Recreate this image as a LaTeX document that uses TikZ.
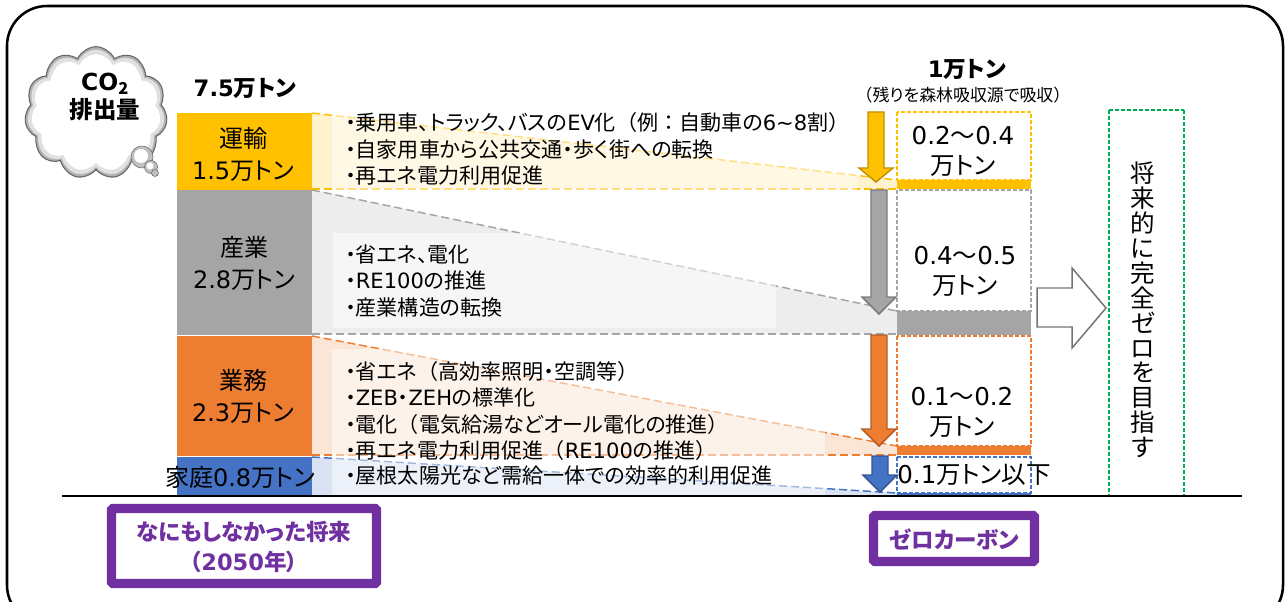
\documentclass[tikz,border=0pt]{standalone}
\usepackage{fontspec}
\setmainfont[RawFeature=+palt]{Noto Sans CJK JP}
\newfontfamily\dv{DejaVu Sans}
\newfontfamily\fullw{Noto Sans CJK JP}
\newcommand{\la}[1]{{\dv #1}}
\newcommand{\fp}[1]{{\fullw #1}}
\usetikzlibrary{shapes.symbols}

\definecolor{cyellow}{HTML}{FFC000}
\definecolor{cgray}{HTML}{A5A5A5}
\definecolor{corange}{HTML}{ED7D31}
\definecolor{cblue}{HTML}{4472C4}
\definecolor{cpurple}{HTML}{7030A0}
\definecolor{cgreen}{HTML}{00B050}
\definecolor{wyellow}{HTML}{FFF2CC}
\definecolor{wgray}{HTML}{EDEDED}
\definecolor{worange}{HTML}{FBE5D6}
\definecolor{wblue}{HTML}{DAE3F3}

\tikzset{
  sector/.style={inner sep=0pt,align=center,font=\fontsize{18}{24}\selectfont},
  measure/.style={inner sep=0pt,align=center,font=\fontsize{18.4}{22.5}\selectfont},
  actions/.style={inner sep=0pt,anchor=west,align=left,font=\fontsize{15.8}{19.7}\selectfont},
  headline/.style={inner sep=0pt,font=\fontsize{17}{19}\selectfont\bfseries},
  caption/.style={inner sep=0pt,align=center,text=cpurple,font=\fontsize{16.9}{22}\selectfont\bfseries},
  overlay/.style={fill=white,fill opacity=0.5},
  edge/.style={dashed,line width=1.1pt,dash pattern=on 6pt off 3pt},
  outline/.style={dashed,line width=1pt,dash pattern=on 3pt off 1.5pt},
  puff/.style={cloud,cloud puffs=11,cloud puff arc=120,cloud ignores aspect,inner sep=0pt,transform shape}
}

\begin{document}
\begin{tikzpicture}[x=0.75pt,y=-0.75pt]
\useasboundingbox (0,0) rectangle (1287,602);

% Frame
\draw[line width=1.9pt,rounded corners=30pt] (7,6) rectangle (1283,625);

% Cloud
\begin{scope}[shift={(96,113)},yscale=1.13]
\node[puff,draw=black!60,fill=black!30,line width=0.8pt,minimum width=107pt,minimum height=88pt] (cloudouter) at (0,0) {};
\node[puff,fill=black!12,minimum width=103pt,minimum height=84pt] (cloudmiddle) at (0,0) {};
\node[puff,fill=white,minimum width=97pt,minimum height=78pt] (cloudinner) at (0,0) {};
\end{scope}
\fill[black!25,draw=black!60] (142,157) circle (11);
\fill[white] (141,156) circle (7);
\fill[black!25,draw=black!60] (151,167) circle (6.5);
\fill[white] (150,166) circle (3.5);
\fill[black!25,draw=black!60] (155,173) circle (3.5);
\node[inner sep=0pt,align=center,font=\fontsize{17.6}{21}\selectfont\bfseries] (cloudtext) at (105,97) {\la{CO$_{\mathbf 2}$}\\排出量};

% Totals
\node[headline] (totalnow) at (245,88) {\la{7.5}万トン};
\node[headline] (totalzero) at (967,69) {\la{1}万トン};
\node[inner sep=0pt,font=\fontsize{12.7}{14}\selectfont] (totalnote) at (963,95) {\fp{（}残りを森林吸収源で吸収\fp{）}};

% Sector wedges
\fill[wyellow] (312,113) -- (897,180) -- (897,189) -- (312,189) -- cycle;
\draw[edge,cyellow] (312,113) -- (897,180);
\draw[edge,cyellow] (312,189) -- (897,189);
\fill[wgray] (312,190) -- (897,311) -- (897,334) -- (312,334) -- cycle;
\draw[edge,cgray] (312,190) -- (897,311);
\draw[edge,cgray] (312,334) -- (897,334);
\fill[worange] (312,336) -- (897,446) -- (897,455) -- (312,455) -- cycle;
\draw[edge,corange] (312,336) -- (897,446);
\draw[edge,corange] (312,455) -- (897,455);
\fill[wblue] (312,457) -- (897,493) -- (897,496) -- (312,496) -- cycle;
\draw[edge,cblue] (312,457) -- (897,493);

% Text panels over the wedges
\fill[overlay] (332,113) rectangle (857,190);
\fill[overlay] (333,233) rectangle (776,328);
\fill[overlay] (332,349) rectangle (825,456);
\fill[overlay] (332,457) rectangle (825,496);

% Left column
\fill[cyellow] (177,113) rectangle (312,190);
\fill[cgray] (177,190) rectangle (312,335);
\fill[corange] (177,336) rectangle (312,456);
\fill[cblue] (177,457) rectangle (312,496);
\node[sector] (transport) at (243,154) {運輸\\\la{1.5}万トン};
\node[sector] (industry) at (244,263) {産業\\\la{2.8}万トン};
\node[sector] (business) at (243,396) {業務\\\la{2.3}万トン};
\node[sector] (household) at (240,477) {家庭\la{0.8}万トン};

% Measures
\node[actions] (transportlist) at (345,149) {・乗用車、トラック、バスの\la{EV}化\fp{（}例\fp{：}自動車の\la{6\char`~8}割\fp{）}\\・自家用車から公共交通・歩く街への転換\\・再エネ電力利用促進};
\node[actions] (industrylist) at (345,281) {・省エネ、電化\\・\la{RE100}の推進\\・産業構造の転換};
\node[actions] (businesslist) at (345,411) {・省エネ\fp{（}高効率照明・空調等\fp{）}\\・\la{ZEB}・\la{ZEH}の標準化\\・電化\fp{（}電気給湯などオール電化の推進\fp{）}\\・再エネ電力利用促進\fp{（}\la{RE100}の推進\fp{）}};
\node[actions] (householdlist) at (345,476) {・屋根太陽光など需給一体での効率的利用促進};

% Right column
\fill[cyellow] (897,180) rectangle (1031,189);
\draw[outline,cyellow] (897,112) rectangle (1031,180);
\fill[cgray] (897,311) rectangle (1031,335);
\draw[outline,cgray] (897,190) rectangle (1031,311);
\fill[corange] (897,446) rectangle (1031,455);
\draw[outline,corange] (897,336) rectangle (1031,446);
\fill[cblue] (897,493) rectangle (1031,496);
\draw[outline,cblue] (897,457) rectangle (1031,493);
\node[measure] (transportcut) at (963,151) {\la{0.2}～\la{0.4}\\万トン};
\node[measure] (industrycut) at (965,271) {\la{0.4}～\la{0.5}\\万トン};
\node[measure] (businesscut) at (962,412) {\la{0.1}～\la{0.2}\\万トン};
\node[measure] (householdcut) at (974,475) {\la{0.1}万トン以下};

% Reduction arrows
\foreach \xc/\ytop/\yneck/\ytip/\col in {876/112/168/182/cyellow,879/190/297/314/cgray,879/335/429/446/corange,880/456/475/492/cblue}
  \filldraw[fill=\col,draw=\col!75!black,line width=1.1pt]
    (\xc-8,\ytop) -- (\xc+8,\ytop) -- (\xc+8,\yneck) -- (\xc+17,\yneck) -- (\xc,\ytip)
    -- (\xc-17,\yneck) -- (\xc-8,\yneck) -- cycle;

% Big arrow
\draw[black!55,line width=1.1pt] (1037,288) -- (1072,288) -- (1072,268) -- (1106,308) -- (1072,348) -- (1072,327) -- (1037,327) -- cycle;

% Goal box
\draw[outline,cgreen] (1109,110) -- (1184,110) (1184,110) -- (1184,496) (1109,110) -- (1109,496);
\node[inner sep=0pt,align=center,font=\fontsize{18.4}{18.7}\selectfont] (goal) at (1143,310) {将\\来\\的\\に\\完\\全\\ゼ\\ロ\\を\\目\\指\\す};

% Base line
\draw[line width=1.1pt] (62,496) -- (1242,496);

% Captions
\draw[cpurple,line width=6.8pt,rounded corners=1pt] (111.5,508.5) rectangle (376.5,583.5);
\node[caption] (captionnow) at (244,547) {なにもしなかった将来\\（\la{2050}年）};
\draw[cpurple,line width=6.8pt,rounded corners=1pt] (873.5,515.5) rectangle (1034.5,561.5);
\node[caption] (captionzero) at (954,539) {ゼロカーボン};

\end{tikzpicture}
\end{document}
